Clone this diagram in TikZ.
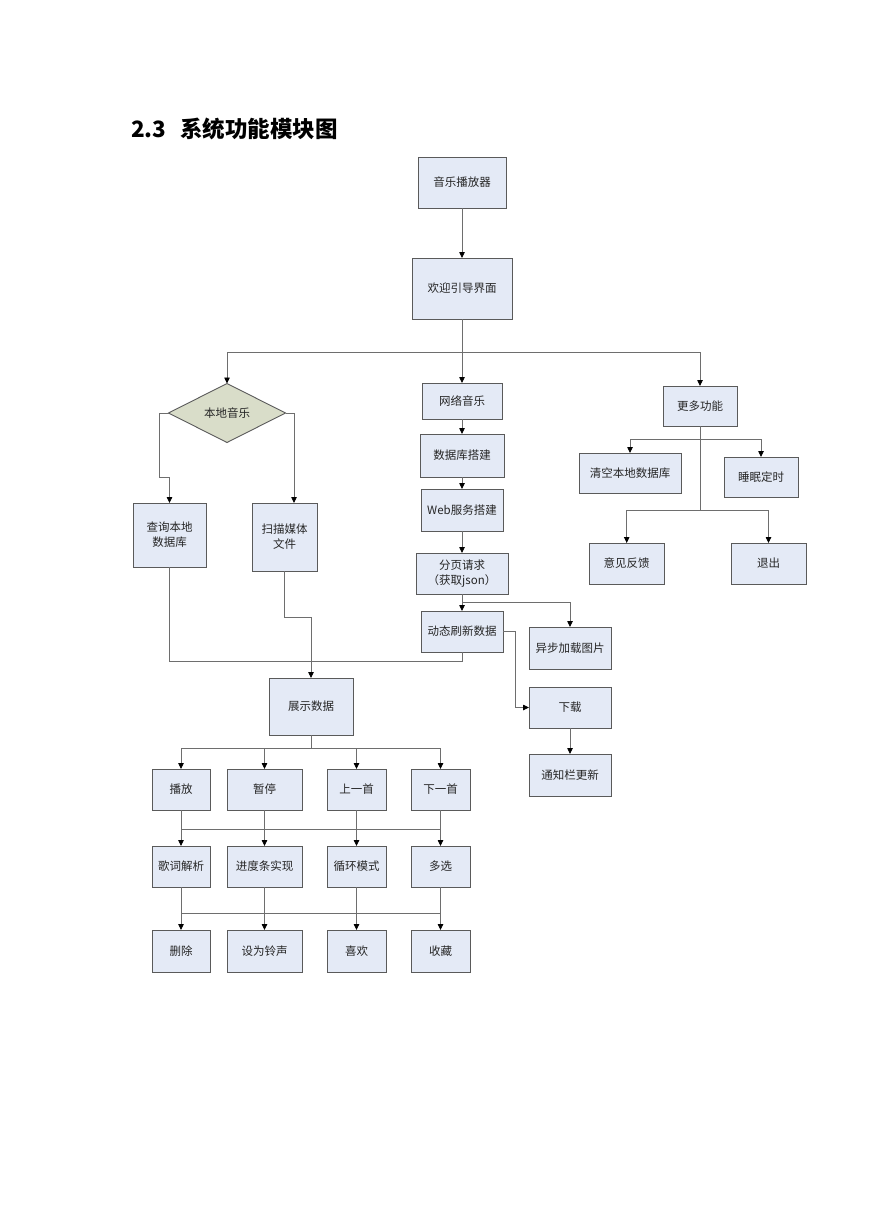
\documentclass[tikz,border=0pt]{standalone}
\usepackage{fontspec}
\newfontfamily\cjk{Noto Sans CJK SC}
\usetikzlibrary{arrows.meta,shapes.geometric}
\definecolor{boxfill}{HTML}{E4EAF6}
\definecolor{dfill}{HTML}{D9DDC9}
\definecolor{boxline}{HTML}{5A5A5A}
\definecolor{conn}{HTML}{6E6E6E}
\tikzset{
  box/.style={draw=boxline, fill=boxfill, line width=0.9pt, inner sep=0pt, outer sep=0pt,
    font=\cjk\fontsize{11.5}{15}\selectfont, align=center, text=black!85},
  dia/.style={diamond, aspect=2, draw=boxline, fill=dfill, line width=0.9pt, inner sep=0pt, outer sep=0pt,
    font=\cjk\fontsize{11.5}{15}\selectfont, text=black!85},
  conline/.style={draw=conn, line width=0.8pt},
  arr/.style={conline, -{Triangle[length=6pt,width=5.5pt,color=black]}}
}
\newcommand{\bx}[6]{\node[box, minimum width=#4, minimum height=#5] (#1) at (#2,#3) {#6};}
\begin{document}
\begin{tikzpicture}[x=1pt,y=-1pt]
\useasboundingbox (0,0) rectangle (869,1228);
\fill[white] (0,0) rectangle (869,1228);
% title
\node[anchor=base west, inner sep=0pt, font=\cjk\bfseries\fontsize{22.5}{26}\selectfont] (title) at (131,137) {2.3\hspace{14pt}系统功能模块图};
% nodes
\bx{player}{462}{182.5}{88}{51}{音乐播放器}
\bx{welcome}{462}{288.5}{100}{61}{欢迎引导界面}
\node[dia, minimum width=117, minimum height=59] (local) at (227,413) {本地音乐};
\bx{query}{169.5}{535}{73}{64}{查询本地\\数据库}
\bx{scan}{284.5}{537}{65}{68}{扫描媒体\\文件}
\bx{net}{462}{401}{80}{36}{网络音乐}
\bx{db}{462}{455.5}{84}{43}{数据库搭建}
\bx{web}{462}{510}{82}{42}{Web服务搭建}
\bx{page}{462}{573.5}{92}{41}{分页请求\\（获取json）}
\bx{refresh}{462}{631.5}{82}{41}{动态刷新数据}
\bx{async}{570}{648}{82}{42}{异步加载图片}
\bx{download}{570}{707.5}{82}{41}{下载}
\bx{notify}{570}{775}{82}{42}{通知栏更新}
\bx{more}{700}{406}{74}{40}{更多功能}
\bx{clear}{630}{473}{102}{40}{清空本地数据库}
\bx{sleep}{761}{477}{74}{40}{睡眠定时}
\bx{feedback}{626.5}{563.5}{75}{41}{意见反馈}
\bx{exit}{768.5}{563.5}{75}{41}{退出}
\bx{show}{311}{706.5}{84}{57}{展示数据}
% row 1
\bx{play}{181}{789.5}{58}{41}{播放}
\bx{pause}{264.5}{789.5}{75}{41}{暂停}
\bx{prev}{356.5}{789.5}{59}{41}{上一首}
\bx{next}{440.5}{789.5}{59}{41}{下一首}
% row 2
\bx{lyric}{181}{866.5}{58}{41}{歌词解析}
\bx{progress}{264.5}{866.5}{75}{41}{进度条实现}
\bx{loop}{356.5}{866.5}{59}{41}{循环模式}
\bx{multi}{440.5}{866.5}{59}{41}{多选}
% row 3
\bx{del}{181}{951}{58}{42}{删除}
\bx{ring}{264.5}{951}{75}{42}{设为铃声}
\bx{like}{356.5}{951}{59}{42}{喜欢}
\bx{fav}{440.5}{951}{59}{42}{收藏}
% coordinates
\coordinate (b1) at (462,352);
\coordinate (lw) at (159,477);
\coordinate (pg) at (462,602);
\coordinate (rf) at (515.7,631.5);
\coordinate (mb) at (700,510);
\coordinate (mb1) at (700,439.3);
\coordinate (qb) at (169.5,661);
\coordinate (sb) at (284.5,617);
\coordinate (shb) at (311,748);
\coordinate (r1) at (181,829.3);
\coordinate (r2) at (181,913.3);
% connectors
\draw[arr] (player) -- (welcome);
\draw[conline] (welcome.south) -- (b1);
\draw[arr] (b1) -| (local.north);
\draw[arr] (b1) -- (net.north);
\draw[arr] (b1) -| (more.north);
\draw[arr] (local.west) -| (lw) -| (query.north);
\draw[arr] (local.east) -| ([xshift=9.5]scan.north);
\draw[arr] (net) -- (db);
\draw[arr] (db) -- (web);
\draw[arr] (web) -- (page);
\draw[conline] (page.south) -- (pg);
\draw[arr] (pg) -- (refresh.north);
\draw[arr] (pg) -| (async.north);
\draw[conline] (refresh.east) -- (rf);
\draw[arr] (rf) |- (download.west);
\draw[arr] (download) -- (notify);
\draw[conline] (more.south) -- (mb);
\draw[arr] (mb1) -| (clear.north);
\draw[arr] (mb1) -| (sleep.north);
\draw[arr] (mb) -| ([xshift=0.2]feedback.north);
\draw[arr] (mb) -| (exit.north);
\draw[conline] (query.south) -- (qb) -| (refresh.south);
\draw[arr] (scan.south) -- (sb) -| (show.north);
% show -> row 1
\draw[conline] (show.south) -- (shb);
\draw[arr] (shb) -| (play.north);
\draw[arr] (shb) -| (pause.north);
\draw[arr] (shb) -| (prev.north);
\draw[arr] (shb) -| (next.north);
% row 1 -> row 2
\draw[conline] (play.south) -- (r1);
\draw[conline] (r1) -- (r1 -| next);
\draw[arr] (r1) -- (lyric.north);
\draw[arr] (pause) -- (progress);
\draw[arr] (prev) -- (loop);
\draw[arr] (next) -- (multi);
% row 2 -> row 3
\draw[conline] (lyric.south) -- (r2);
\draw[conline] (r2) -- (r2 -| multi);
\draw[arr] (r2) -- (del.north);
\draw[arr] (progress) -- (ring);
\draw[arr] (loop) -- (like);
\draw[arr] (multi) -- (fav);
\end{tikzpicture}
\end{document}
